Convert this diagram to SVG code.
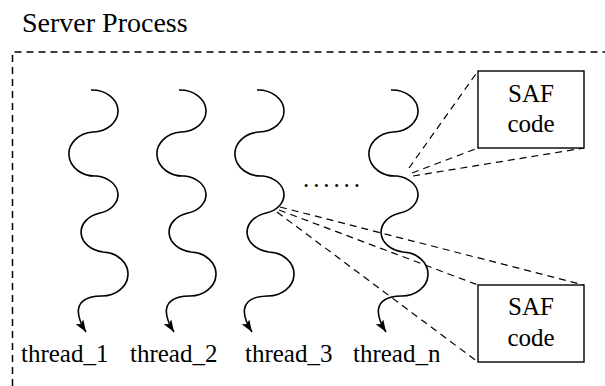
<svg xmlns="http://www.w3.org/2000/svg" width="605" height="386" viewBox="0 0 605 386">
  <style>
    text { fill: #000; }
    .lbl { font-size: 25px; }
    .title { font-size: 28px; }
    .wave { fill: none; stroke: #000; stroke-width: 1.6; marker-end: url(#arrow); }
    .box { fill: #fff; stroke: #000; stroke-width: 1.4; }
    .dash { fill: none; stroke: #000; stroke-width: 1.2; stroke-dasharray: 7 5; }
    .frame { fill: none; stroke: #000; stroke-width: 1.5; stroke-dasharray: 7 5; }
  </style>
  <defs>
    <marker id="arrow" markerUnits="userSpaceOnUse" markerWidth="13" markerHeight="10" refX="12" refY="4.5" orient="auto">
      <path d="M0,0 L12,4.5 L0,9 L2.5,4.5 Z" fill="#000"/>
    </marker>
    <!-- one thread: a stack of half-ellipses ending in a curled arrow -->
    <path id="wavePath" d="M91,90 A26,21 0 0 1 93,132 A26,22 0 0 0 97,176 A25,19 0 0 1 100,213 A26,20 0 0 0 103,252 A26,22 0 0 1 101,296 C70,297 77,318 86,332"/>
  </defs>

  <rect width="605" height="386" fill="#fff"/>

  <g font-family="'Liberation Serif', 'Times New Roman', Times, serif">
    <text class="title" x="22" y="32">Server Process</text>
  </g>
  <path class="frame" d="M12.5,386 V52 H605"/>

  <g id="connectors">
    <line class="dash" x1="409" y1="168" x2="478" y2="71"/>
    <line class="dash" x1="412" y1="173" x2="478" y2="148"/>
    <line class="dash" x1="413" y1="176" x2="584" y2="148"/>
    <line class="dash" x1="280" y1="207" x2="584" y2="285"/>
    <line class="dash" x1="279" y1="210" x2="478" y2="285"/>
    <line class="dash" x1="277" y1="212" x2="478" y2="362"/>
  </g>

  <g font-family="'Liberation Serif', 'Times New Roman', Times, serif">
    <g id="thread_1">
      <use href="#wavePath" class="wave"/>
      <text class="lbl" x="21" y="362">thread_1</text>
    </g>
    <g id="thread_2">
      <use href="#wavePath" class="wave" transform="translate(88,0)"/>
      <text class="lbl" x="130" y="362">thread_2</text>
    </g>
    <g id="thread_3">
      <use href="#wavePath" class="wave" transform="translate(166,0)"/>
      <text class="lbl" x="245" y="362">thread_3</text>
    </g>
    <g id="ellipsis">
      <text class="lbl" x="303" y="187" letter-spacing="3.9">......</text>
    </g>
    <g id="thread_n">
      <use href="#wavePath" class="wave" transform="translate(300,0)"/>
      <text class="lbl" x="353" y="362">thread_n</text>
    </g>

    <g id="saf_code_1">
      <rect class="box" x="478" y="71" width="106" height="77"/>
      <text class="lbl" x="531" y="102" text-anchor="middle">SAF</text>
      <text class="lbl" x="531" y="132" text-anchor="middle">code</text>
    </g>
    <g id="saf_code_2">
      <rect class="box" x="478" y="285" width="106" height="77"/>
      <text class="lbl" x="531" y="315" text-anchor="middle">SAF</text>
      <text class="lbl" x="531" y="346" text-anchor="middle">code</text>
    </g>
  </g>
</svg>
